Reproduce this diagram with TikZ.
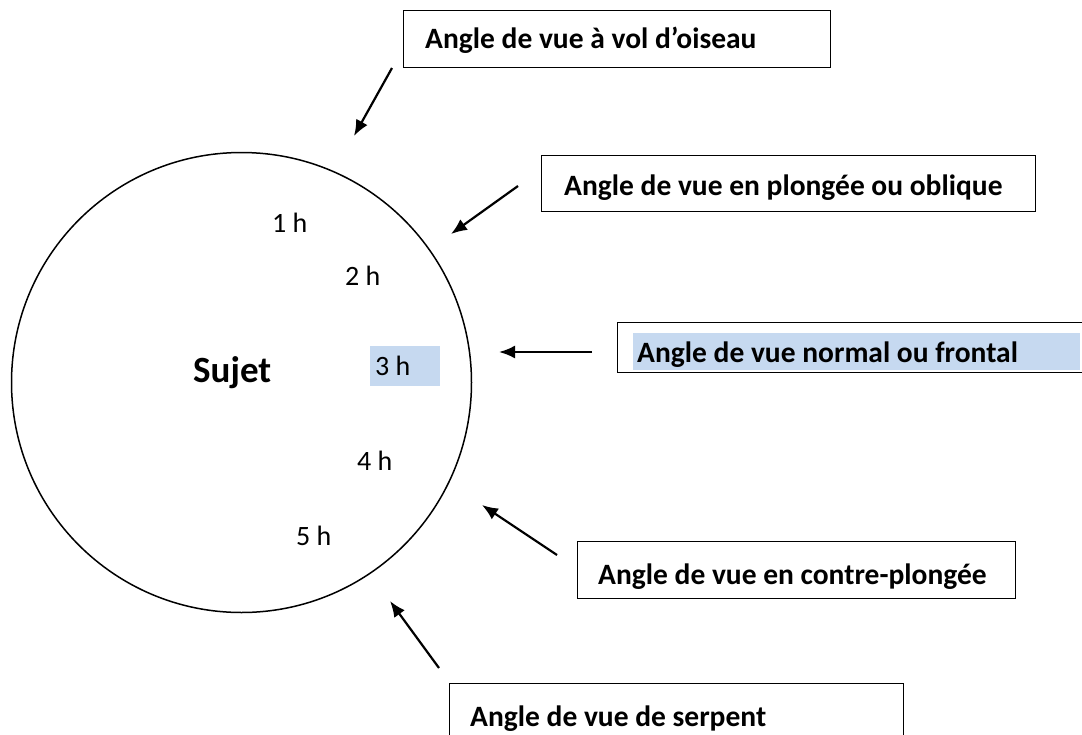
\documentclass[tikz,border=0pt]{standalone}
\usepackage{fontspec}
\setmainfont{Carlito}
\usetikzlibrary{arrows.meta}
\definecolor{surlign}{RGB}{198,217,240}
\begin{document}
\begin{tikzpicture}[x=1pt,y=-1pt,
    cadre/.style={draw,line width=1.4pt,anchor=north west,inner sep=0pt},
    titre/.style={anchor=base west,inner sep=0pt,font=\fontsize{29.5}{33}\selectfont\bfseries},
    heure/.style={anchor=base west,inner sep=0pt,font=\fontsize{28}{32}\selectfont},
    fleche/.style={line width=2.2pt,-{Latex[length=16pt,width=13pt]}}]
  \useasboundingbox (0,0) rectangle (1082,734);
  \clip (0,0) rectangle (1082,734);

  % le sujet
  \node[circle,draw,line width=1.5pt,minimum size=460pt,inner sep=0pt] (cercle) at (241.5,382.5) {};
  \node[anchor=base west,inner sep=0pt,font=\fontsize{37}{40}\selectfont\bfseries] (sujet) at (193,382) {Sujet};

  % les heures
  \fill[surlign] (370,346) rectangle (440,386);
  \node[heure] (h1) at (272,232) {1 h};
  \node[heure] (h2) at (345,285) {2 h};
  \node[heure] (h3) at (375,375) {3 h};
  \node[heure] (h4) at (357,470) {4 h};
  \node[heure] (h5) at (296,545) {5 h};

  % les cadres
  \node[cadre,minimum width=427pt,minimum height=57pt] (oiseau) at (403,10) {};
  \node[titre] (oiseautxt) at (425,48) {Angle de vue à vol d’oiseau};
  \node[cadre,minimum width=494pt,minimum height=56pt] (plongee) at (541,155) {};
  \node[titre] (plongeetxt) at (564,195) {Angle de vue en plongée ou oblique};
  \node[cadre,minimum width=480pt,minimum height=50pt] (normal) at (617,322) {};
  \fill[surlign] (633,333) rectangle (1080,370);
  \node[titre] (normaltxt) at (637,362) {Angle de vue normal ou frontal};
  \node[cadre,minimum width=438pt,minimum height=57pt] (contre) at (577,541) {};
  \node[titre] (contretxt) at (598,584) {Angle de vue en contre-plongée};
  \node[cadre,minimum width=454pt,minimum height=70pt] (serpent) at (449,683) {};
  \node[titre] (serpenttxt) at (470,726) {Angle de vue de serpent};

  % les fleches
  \coordinate (oiseaua) at (392,68);
  \coordinate (oiseaub) at (354,136);
  \coordinate (plongeea) at (518,186);
  \coordinate (plongeeb) at (451,234);
  \coordinate (normala) at (592,352);
  \coordinate (normalb) at (499,352);
  \coordinate (contrea) at (557,555);
  \coordinate (contreb) at (482,505);
  \coordinate (serpenta) at (439,668);
  \coordinate (serpentb) at (390,601);
  \foreach \v in {oiseau,plongee,normal,contre,serpent} {
    \draw[fleche] (\v a) -- (\v b);
  }
\end{tikzpicture}
\end{document}
